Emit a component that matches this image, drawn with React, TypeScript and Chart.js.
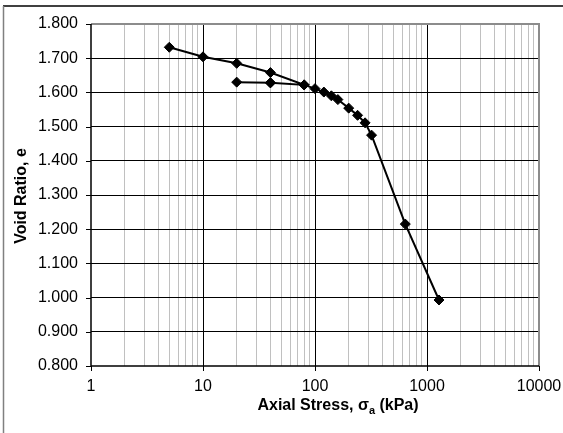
import React, { useEffect, useRef } from "react";
import { Chart, registerables } from "chart.js";

Chart.register(...registerables);

// Data (loading / unloading / reloading sequence)
const STRESS_KPA = [5, 10, 20, 40, 80, 40, 20, 40, 80, 100, 120, 140, 160, 200, 240, 280, 320, 640, 1280];
const VOID_RATIO = [1.732, 1.704, 1.685, 1.658, 1.622, 1.628, 1.63, 1.628, 1.622, 1.611, 1.601, 1.59, 1.579, 1.554, 1.533, 1.511, 1.475, 1.215, 0.993];

// Axis structure
const X_DECADES = [1, 10, 100, 1000];
const X_MULTIPLIERS = [1, 2, 3, 4, 5, 6, 7, 8, 9];
const X_MAX = 10000;
const X_LABELS = [1, 10, 100, 1000, 10000];
const Y_TICKS = [0.8, 0.9, 1.0, 1.1, 1.2, 1.3, 1.4, 1.5, 1.6, 1.7, 1.8];
const Y_MIN = 0.8;
const Y_MAX = 1.8;

const Y_TITLE = "Void Ratio, e";
const X_TITLE_MAIN = "Axial Stress, σ";
const X_TITLE_SUB = "a";
const X_TITLE_END = " (kPa)";

const FONT = "'Liberation Sans', Arial, Helvetica, sans-serif";

const X_TICKS: number[] = [];
X_DECADES.forEach((d) => X_MULTIPLIERS.forEach((m) => X_TICKS.push(d * m)));
X_TICKS.push(X_MAX);

const isMajor = (v: number) => X_LABELS.includes(v);

const decorPlugin = {
  id: "decor",
  beforeDraw(chart: any) {
    const { ctx, width, height } = chart;
    ctx.save();
    ctx.fillStyle = "#ffffff";
    ctx.fillRect(0, 0, width, height);
    // outer chart border
    ctx.strokeStyle = "#000000";
    ctx.lineWidth = 1.5;
    ctx.beginPath();
    ctx.moveTo(3, 6);
    ctx.lineTo(width, 6);
    ctx.stroke();
    ctx.strokeStyle = "#808080";
    ctx.lineWidth = 1.5;
    ctx.beginPath();
    ctx.moveTo(3.5, 6);
    ctx.lineTo(3.5, height);
    ctx.stroke();
    ctx.restore();
  },
  beforeDatasetsDraw(chart: any) {
    const { ctx, chartArea } = chart;
    const { left, right, top, bottom } = chartArea;
    ctx.save();
    // plot area border (top / right)
    ctx.strokeStyle = "#8c8c8c";
    ctx.lineWidth = 2;
    ctx.beginPath();
    ctx.moveTo(left, top);
    ctx.lineTo(right, top);
    ctx.lineTo(right, bottom);
    ctx.stroke();
    // tick marks
    ctx.strokeStyle = "#000000";
    ctx.lineWidth = 1;
    const ys = chart.scales.y;
    Y_TICKS.forEach((v) => {
      const py = Math.round(ys.getPixelForValue(v)) + 0.5;
      ctx.beginPath();
      ctx.moveTo(left - 5, py);
      ctx.lineTo(left, py);
      ctx.stroke();
    });
    const xs = chart.scales.x;
    X_LABELS.forEach((v) => {
      const px = Math.round(xs.getPixelForValue(v)) + 0.5;
      ctx.beginPath();
      ctx.moveTo(px, bottom);
      ctx.lineTo(px, bottom + 5);
      ctx.stroke();
    });
    // axis lines
    ctx.lineWidth = 1.5;
    ctx.beginPath();
    ctx.moveTo(left, top);
    ctx.lineTo(left, bottom);
    ctx.lineTo(right, bottom);
    ctx.stroke();
    ctx.restore();
  },
  afterDraw(chart: any) {
    const { ctx } = chart;
    ctx.save();
    ctx.fillStyle = "#000000";
    // Y title
    ctx.font = `bold 16px ${FONT}`;
    ctx.textAlign = "center";
    ctx.textBaseline = "middle";
    ctx.translate(22, 196);
    ctx.rotate(-Math.PI / 2);
    ctx.fillText(Y_TITLE, 0, 0);
    ctx.setTransform(1, 0, 0, 1, 0, 0);
    // X title with subscript
    const mainFont = `bold 16px ${FONT}`;
    const subFont = `bold 11px ${FONT}`;
    ctx.font = mainFont;
    const w1 = ctx.measureText(X_TITLE_MAIN).width;
    const w3 = ctx.measureText(X_TITLE_END).width;
    ctx.font = subFont;
    const w2 = ctx.measureText(X_TITLE_SUB).width;
    const total = w1 + w2 + w3;
    const cx = 338;
    const baseY = 410;
    let x0 = cx - total / 2;
    ctx.textAlign = "left";
    ctx.textBaseline = "alphabetic";
    ctx.font = mainFont;
    ctx.fillText(X_TITLE_MAIN, x0, baseY);
    ctx.font = subFont;
    ctx.fillText(X_TITLE_SUB, x0 + w1, baseY + 4);
    ctx.font = mainFont;
    ctx.fillText(X_TITLE_END, x0 + w1 + w2, baseY);
    ctx.restore();
  },
};

export default function App() {
  const ref = useRef<HTMLCanvasElement | null>(null);

  useEffect(() => {
    if (!ref.current) return;
    const chart = new Chart(ref.current, {
      type: "line",
      data: {
        datasets: [
          {
            data: STRESS_KPA.map((x, i) => ({ x, y: VOID_RATIO[i] })),
            borderColor: "#000000",
            backgroundColor: "#000000",
            borderWidth: 2,
            pointStyle: "rectRot",
            pointRadius: 5,
            pointBorderWidth: 1,
            pointBackgroundColor: "#000000",
            pointBorderColor: "#000000",
            tension: 0,
          },
        ],
      },
      options: {
        responsive: false,
        animation: false,
        devicePixelRatio: 1,
        layout: { padding: { left: 0, right: 24, top: 24, bottom: 0 } },
        plugins: {
          legend: { display: false },
          tooltip: { enabled: false },
          title: { display: false },
        },
        scales: {
          x: {
            type: "logarithmic",
            min: 1,
            max: X_MAX,
            afterBuildTicks: (scale: any) => {
              scale.ticks = X_TICKS.map((v) => ({ value: v, major: isMajor(v) }));
            },
            afterFit: (scale: any) => {
              scale.height = 67;
              scale.paddingLeft = 0;
              scale.paddingRight = 0;
            },
            ticks: {
              autoSkip: false,
              maxRotation: 0,
              minRotation: 0,
              padding: 11,
              color: "#000000",
              font: { family: FONT, size: 16 },
              callback: (v: any) => (isMajor(Number(v)) ? String(Number(v)) : ""),
            },
            grid: {
              drawTicks: false,
              lineWidth: 1,
              color: (ctx: any) => {
                const v = ctx.tick ? ctx.tick.value : 0;
                if (v === 1 || v === X_MAX) return "rgba(0,0,0,0)";
                return isMajor(v) ? "#000000" : "#c0c0c0";
              },
            },
            border: { display: false },
          },
          y: {
            type: "linear",
            min: Y_MIN,
            max: Y_MAX,
            afterBuildTicks: (scale: any) => {
              scale.ticks = Y_TICKS.map((v) => ({ value: v }));
            },
            afterFit: (scale: any) => {
              scale.width = 91;
              scale.paddingTop = 0;
              scale.paddingBottom = 0;
            },
            ticks: {
              padding: 13,
              color: "#000000",
              font: { family: FONT, size: 16 },
              callback: (v: any) => Number(v).toFixed(3),
            },
            grid: {
              drawTicks: false,
              lineWidth: 1,
              color: (ctx: any) => {
                const v = ctx.tick ? ctx.tick.value : 0;
                if (Math.abs(v - Y_MIN) < 1e-6 || Math.abs(v - Y_MAX) < 1e-6) return "rgba(0,0,0,0)";
                return "#000000";
              },
            },
            border: { display: false },
          },
        },
      },
      plugins: [decorPlugin],
    });
    return () => chart.destroy();
  }, []);

  return (
    <div style={{ position: "absolute", left: 0, top: 0, width: 563, height: 433 }}>
      <canvas ref={ref} width={563} height={433} style={{ display: "block" }} />
    </div>
  );
}
